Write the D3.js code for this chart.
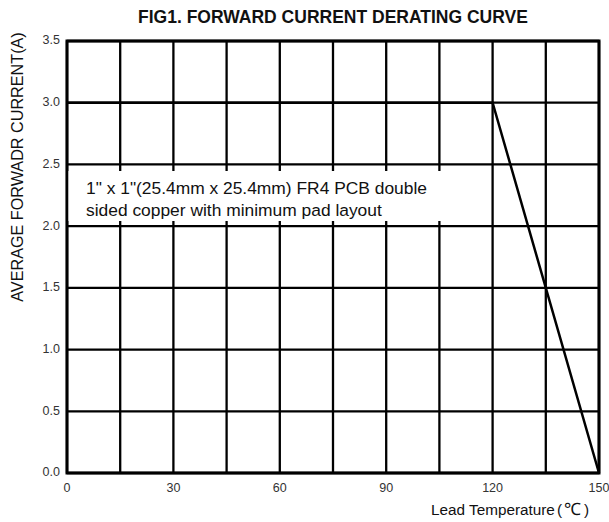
<!DOCTYPE html>
<html>
<head>
<meta charset="utf-8">
<script src="https://cdn.jsdelivr.net/npm/d3@7"></script>
<style>
  body { margin: 0; background: #fff; }
  svg { display: block; font-family: "Liberation Sans", Arial, sans-serif; }
</style>
</head>
<body>
<svg id="chart" width="609" height="522"></svg>
<script>
const title = "FIG1. FORWARD CURRENT DERATING CURVE";
const xLabelMain = "Lead Temperature";
const xLabelUnit = ["(", "\u2103", ")"];
const yLabel = "AVERAGE FORWADR CURRENT(A)";
const noteLines = ["1\" x 1\"(25.4mm x 25.4mm) FR4 PCB double", "sided copper with minimum pad layout"];
const temps = [0, 120, 150];
const currents = [3.0, 3.0, 0.0];
const xTickLabels = [0, 30, 60, 90, 120, 150];
const xGrid = [0, 15, 30, 45, 60, 75, 90, 105, 120, 135, 150];
const yTicks = [0.0, 0.5, 1.0, 1.5, 2.0, 2.5, 3.0, 3.5];

const svg = d3.select("#chart");
const m = {left: 67, right: 599, top: 41, bottom: 473};
const x = d3.scaleLinear().domain([0, 150]).range([m.left, m.right]);
const y = d3.scaleLinear().domain([0, 3.5]).range([m.bottom, m.top]);

svg.append("text").attr("x", 333).attr("y", 23).attr("text-anchor", "middle")
  .attr("font-size", 17.5).attr("font-weight", "bold").attr("fill", "#111").text(title);

// grid
svg.append("g").selectAll("line").data(xGrid).join("line")
  .attr("x1", d => x(d)).attr("x2", d => x(d)).attr("y1", m.top).attr("y2", m.bottom)
  .attr("stroke", "#000").attr("stroke-width", 2.3);
svg.append("g").selectAll("line").data(yTicks).join("line")
  .attr("x1", m.left).attr("x2", m.right).attr("y1", d => y(d)).attr("y2", d => y(d))
  .attr("stroke", "#000").attr("stroke-width", 2.3);
svg.append("rect").attr("x", m.left).attr("y", m.top).attr("width", m.right - m.left).attr("height", m.bottom - m.top)
  .attr("fill", "none").attr("stroke", "#000").attr("stroke-width", 3);

// note box
svg.append("rect").attr("x", m.left + 1.5).attr("y", 171).attr("width", x(120) - m.left - 3.5).attr("height", 50).attr("fill", "#fff");
svg.append("g").selectAll("text").data(noteLines).join("text")
  .attr("x", 86).attr("y", (d, i) => 193.5 + i * 22).attr("font-size", 17.4).attr("fill", "#111").text(d => d);

// curve
const line = d3.line().x((d, i) => x(temps[i])).y(d => y(d));
svg.append("path").datum(currents).attr("d", line).attr("fill", "none")
  .attr("stroke", "#000").attr("stroke-width", 2.5);

// ticks
svg.append("g").selectAll("text").data(yTicks).join("text")
  .attr("x", 60).attr("y", d => y(d) - 1).attr("dy", "0.35em").attr("text-anchor", "end")
  .attr("font-size", 12.5).attr("fill", "#333").text(d => d.toFixed(1));
svg.append("g").selectAll("text").data(xTickLabels).join("text")
  .attr("x", d => x(d)).attr("y", 492).attr("text-anchor", "middle")
  .attr("font-size", 12.5).attr("fill", "#333").text(d => d);

const xl = svg.append("text").attr("x", 431).attr("y", 515).attr("font-size", 15.3).attr("fill", "#111");
xl.append("tspan").text(xLabelMain);
xl.append("tspan").attr("dx", 2).text(xLabelUnit[0]);
xl.append("tspan").attr("dx", 2).attr("font-size", 17).text(xLabelUnit[1]);
xl.append("tspan").attr("dx", 3).text(xLabelUnit[2]);

svg.append("text").attr("transform", "translate(23,167) rotate(-90)").attr("text-anchor", "middle")
  .attr("font-size", 16.2).attr("fill", "#111").text(yLabel);
</script>
</body>
</html>
